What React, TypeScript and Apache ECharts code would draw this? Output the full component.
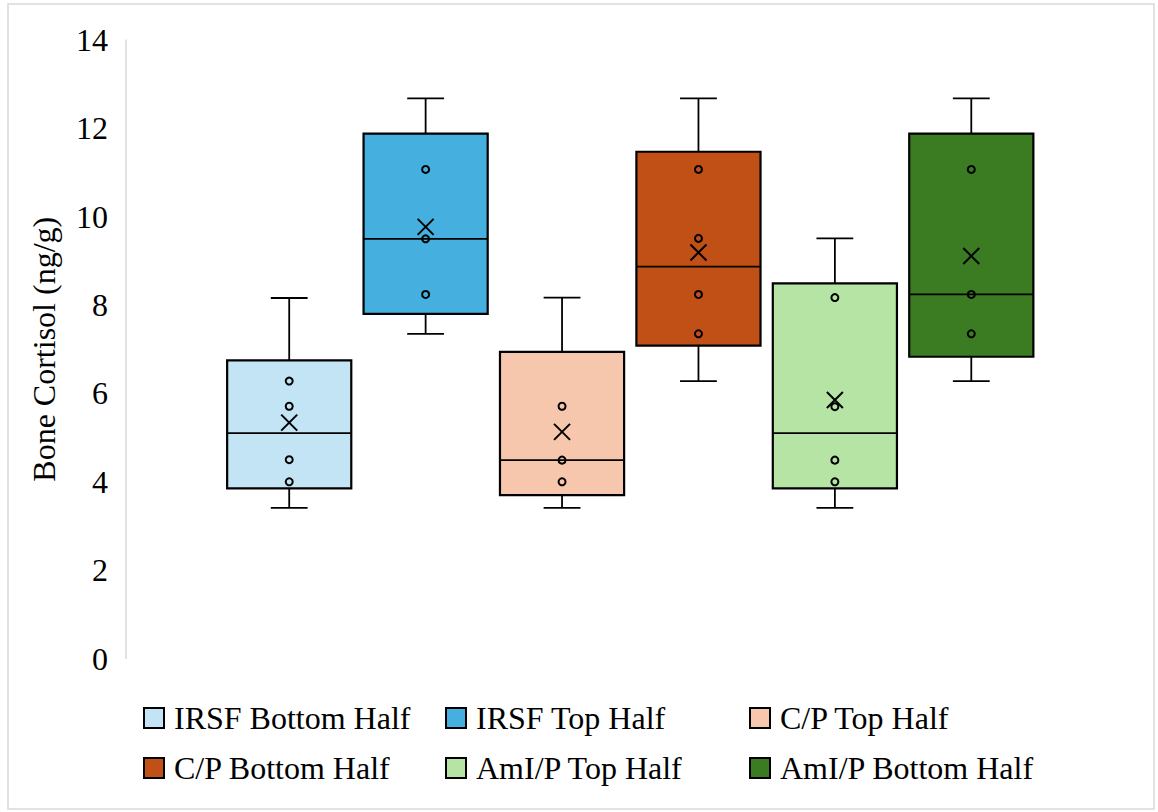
import React, { useEffect, useRef } from "react";
import * as echarts from "echarts";

const categories = [
  "IRSF Bottom Half",
  "IRSF Top Half",
  "C/P Top Half",
  "C/P Bottom Half",
  "AmI/P Top Half",
  "AmI/P Bottom Half",
];
const whiskerMin = [3.41, 7.35, 3.41, 6.28, 3.41, 6.28];
const quartile1 = [3.85, 7.8, 3.7, 7.08, 3.85, 6.83];
const medians = [5.1, 9.5, 4.49, 8.87, 5.1, 8.24];
const quartile3 = [6.75, 11.88, 6.94, 11.47, 8.49, 11.88];
const whiskerMax = [8.16, 12.68, 8.17, 12.68, 9.51, 12.68];
const means = [5.34, 9.77, 5.13, 9.19, 5.85, 9.11];
const innerPoints = [
  [6.28, 5.71, 4.5, 4.0],
  [11.07, 9.5, 8.24],
  [5.71, 4.49, 4.0],
  [11.07, 9.51, 8.24, 7.35],
  [8.17, 5.7, 4.49, 4.0],
  [11.07, 8.24, 7.35],
];
const yTicks = { min: 0, max: 14, interval: 2 };
const boxColors = ["#C3E4F4", "#45B0E0", "#F6C7AD", "#C05016", "#B5E4A4", "#3B7C23"];

const FONT = "'Liberation Serif', 'Times New Roman', serif";

export default function App() {
  const ref = useRef<HTMLDivElement>(null);

  useEffect(() => {
    if (!ref.current) return;
    const chart = echarts.init(ref.current, null, { renderer: "svg" });

    const boxData = categories.map((_, i) => [
      i,
      whiskerMin[i],
      quartile1[i],
      medians[i],
      quartile3[i],
      whiskerMax[i],
    ]);
    const pointData: number[][] = [];
    innerPoints.forEach((arr, i) => arr.forEach((v) => pointData.push([i, v])));
    const meanData = means.map((v, i) => [i, v]);

    const legendPos = [
      [143, 718],
      [445, 718],
      [749, 718],
      [143, 768],
      [445, 768],
      [749, 768],
    ];

    const option: any = {
      animation: false,
      backgroundColor: "#ffffff",
      grid: { left: 221, right: 1158 - 1039.5, top: 40, bottom: 812 - 658.5, containLabel: false },
      xAxis: {
        type: "category",
        data: categories,
        axisLine: { show: false },
        axisTick: { show: false },
        axisLabel: { show: false },
        splitLine: { show: false },
      },
      yAxis: {
        type: "value",
        min: yTicks.min,
        max: yTicks.max,
        interval: yTicks.interval,
        offset: 95,
        axisLine: { show: true, lineStyle: { color: "#d9d9d9", width: 1.5 } },
        axisTick: { show: false },
        splitLine: { show: false },
        axisLabel: { fontSize: 32, fontFamily: FONT, color: "#000", margin: 18 },
        name: "Bone Cortisol (ng/g)",
        nameLocation: "middle",
        nameRotate: 90,
        nameGap: 66,
        nameTextStyle: { fontSize: 32, fontFamily: FONT, color: "#000" },
      },
      legend: categories.map((name, i) => ({
        show: true,
        selectedMode: false,
        left: legendPos[i][0],
        top: legendPos[i][1] - 16,
        padding: 0,
        itemWidth: 20,
        itemHeight: 20,
        icon: "rect",
        data: [
          {
            name,
            icon: "rect",
            itemStyle: { color: boxColors[i], borderColor: "#000", borderWidth: 2, opacity: 1 },
          },
        ],
        textStyle: {
          fontSize: 32,
          fontFamily: FONT,
          color: "#000",
          lineHeight: 32,
          padding: [0, 0, 0, 5],
        },
      })),
      graphic: [
        {
          type: "rect",
          shape: { x: 8, y: 4, width: 1146, height: 805 },
          style: { fill: "none", stroke: "#d9d9d9", lineWidth: 1.5 },
          silent: true,
        },
      ],
      series: [
        ...categories.map((name, i) => ({
          type: "scatter",
          name,
          data: [],
          itemStyle: { color: boxColors[i], opacity: 1 },
        })),
        {
          type: "custom",
          name: "boxes",
          data: boxData,
          encode: { x: 0, y: [1, 2, 3, 4, 5] },
          renderItem: (params: any, api: any) => {
            const x = api.value(0);
            const lo = api.coord([x, api.value(1)]);
            const q1 = api.coord([x, api.value(2)]);
            const med = api.coord([x, api.value(3)]);
            const q3 = api.coord([x, api.value(4)]);
            const hi = api.coord([x, api.value(5)]);
            const band = api.size([1, 0])[0];
            const boxW = band * 0.91;
            const capW = band * 0.27;
            const cx = lo[0];
            const lineStyle = { stroke: "#000", lineWidth: 1.8 };
            return {
              type: "group",
              children: [
                { type: "line", shape: { x1: cx, y1: hi[1], x2: cx, y2: q3[1] }, style: lineStyle },
                { type: "line", shape: { x1: cx, y1: q1[1], x2: cx, y2: lo[1] }, style: lineStyle },
                { type: "line", shape: { x1: cx - capW / 2, y1: hi[1], x2: cx + capW / 2, y2: hi[1] }, style: lineStyle },
                { type: "line", shape: { x1: cx - capW / 2, y1: lo[1], x2: cx + capW / 2, y2: lo[1] }, style: lineStyle },
                {
                  type: "rect",
                  shape: { x: cx - boxW / 2, y: q3[1], width: boxW, height: q1[1] - q3[1] },
                  style: { fill: boxColors[params.dataIndex], stroke: "#000", lineWidth: 2.2 },
                },
                { type: "line", shape: { x1: cx - boxW / 2, y1: med[1], x2: cx + boxW / 2, y2: med[1] }, style: lineStyle },
              ],
            };
          },
          z: 2,
        },
        {
          type: "scatter",
          name: "points",
          data: pointData,
          symbol: "circle",
          symbolSize: 7,
          itemStyle: { color: "rgba(0,0,0,0)", borderColor: "#000", borderWidth: 2, opacity: 1 },
          z: 5,
        },
        {
          type: "scatter",
          name: "mean",
          data: meanData,
          symbol: "path://M0,0L10,10M10,0L0,10",
          symbolSize: 16,
          itemStyle: { color: "rgba(0,0,0,0)", borderColor: "#000", borderWidth: 2, opacity: 1 },
          z: 6,
        },
      ],
    };

    chart.setOption(option);
    return () => chart.dispose();
  }, []);

  return (
    <div
      ref={ref}
      style={{ position: "fixed", left: 0, top: 0, width: 1158, height: 812, background: "#fff" }}
    />
  );
}
